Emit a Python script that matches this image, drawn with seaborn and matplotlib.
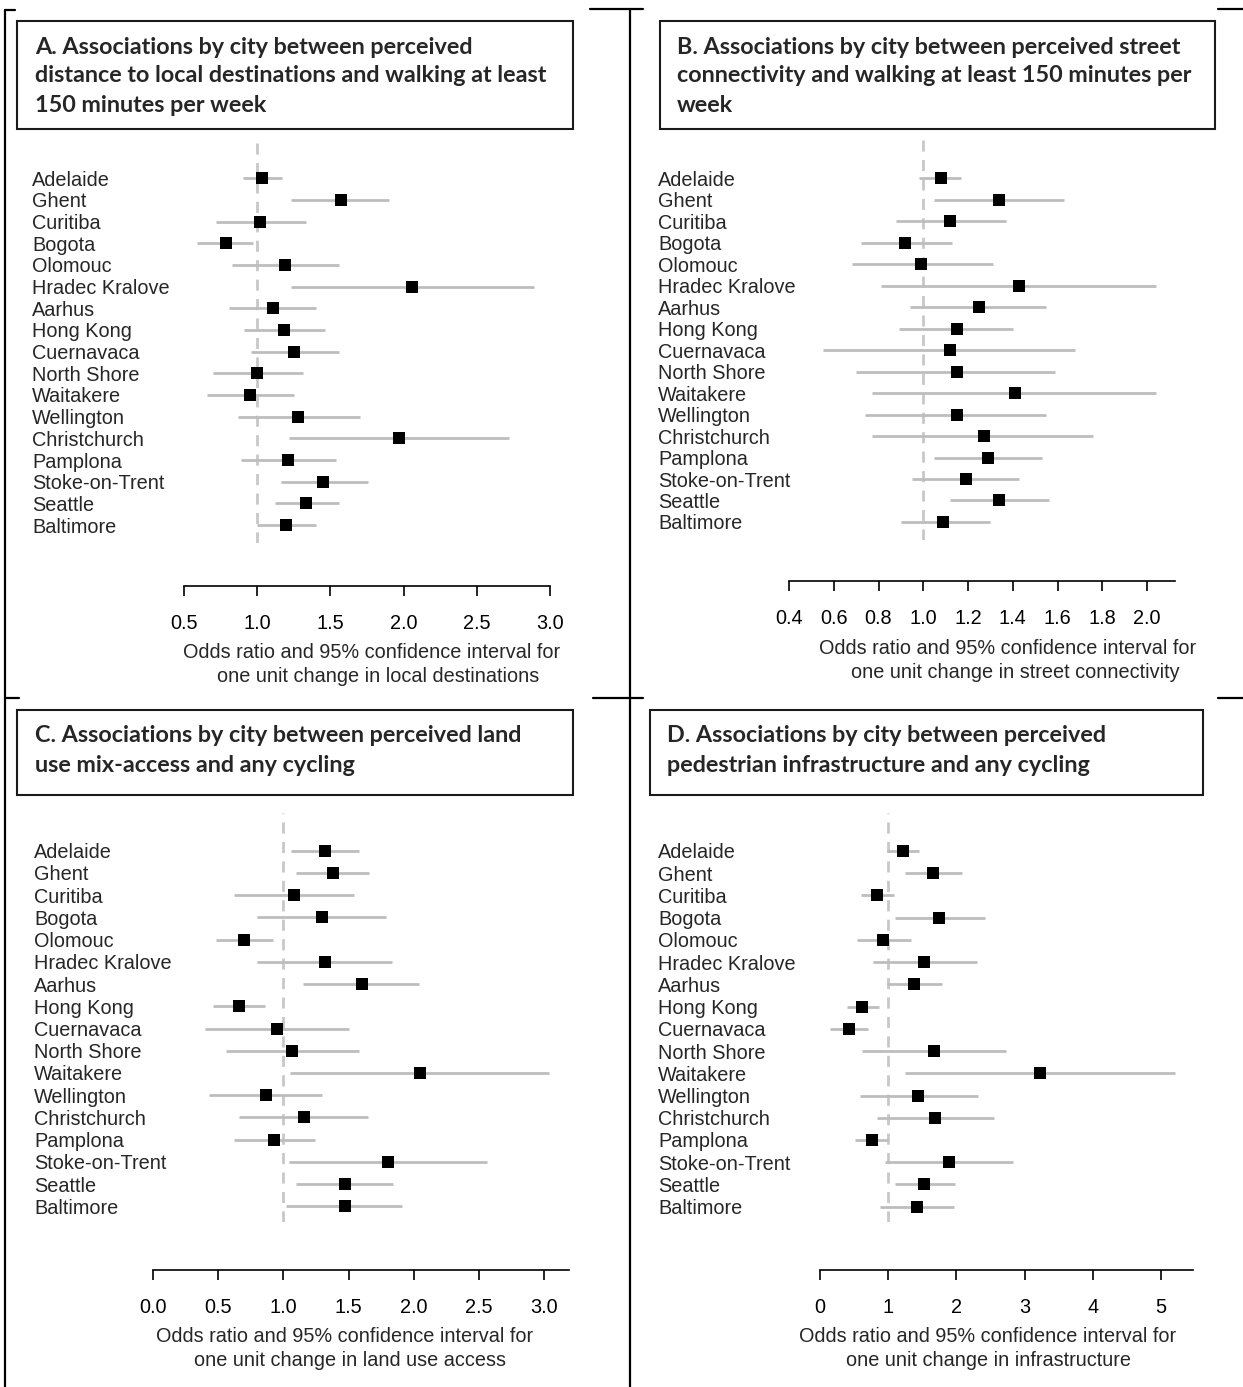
import matplotlib
matplotlib.use("Agg")
import matplotlib.pyplot as plt
import seaborn as sns
import numpy as np
import pandas as pd
from matplotlib.patches import Rectangle
from matplotlib.lines import Line2D

sns.set_style("white")
plt.rcParams['font.family'] = ['Liberation Sans', 'DejaVu Sans']

cities = ["Adelaide", "Ghent", "Curitiba", "Bogota", "Olomouc", "Hradec Kralove",
          "Aarhus", "Hong Kong", "Cuernavaca", "North Shore", "Waitakere",
          "Wellington", "Christchurch", "Pamplona", "Stoke-on-Trent", "Seattle",
          "Baltimore"]

or_a = [1.03, 1.57, 1.02, 0.79, 1.19, 2.06, 1.11, 1.18, 1.25, 1.00, 0.95, 1.28, 1.97, 1.21, 1.45, 1.33, 1.20]
lo_a = [0.90, 1.23, 0.72, 0.59, 0.83, 1.23, 0.81, 0.91, 0.96, 0.70, 0.66, 0.87, 1.22, 0.89, 1.16, 1.12, 1.00]
hi_a = [1.17, 1.90, 1.33, 0.97, 1.56, 2.89, 1.40, 1.46, 1.56, 1.31, 1.25, 1.70, 2.72, 1.54, 1.76, 1.56, 1.40]

or_b = [1.08, 1.34, 1.12, 0.92, 0.99, 1.43, 1.25, 1.15, 1.12, 1.15, 1.41, 1.15, 1.27, 1.29, 1.19, 1.34, 1.09]
lo_b = [0.98, 1.05, 0.88, 0.72, 0.68, 0.81, 0.94, 0.89, 0.55, 0.70, 0.77, 0.74, 0.77, 1.05, 0.95, 1.12, 0.90]
hi_b = [1.17, 1.63, 1.37, 1.13, 1.31, 2.04, 1.55, 1.40, 1.68, 1.59, 2.04, 1.55, 1.76, 1.53, 1.43, 1.56, 1.30]

or_c = [1.32, 1.38, 1.08, 1.30, 0.70, 1.32, 1.60, 0.66, 0.95, 1.07, 2.05, 0.87, 1.16, 0.93, 1.80, 1.47, 1.47]
lo_c = [1.06, 1.10, 0.62, 0.80, 0.48, 0.80, 1.15, 0.46, 0.40, 0.56, 1.05, 0.43, 0.66, 0.62, 1.04, 1.10, 1.02]
hi_c = [1.58, 1.66, 1.54, 1.79, 0.92, 1.83, 2.04, 0.86, 1.50, 1.58, 3.04, 1.30, 1.65, 1.24, 2.56, 1.84, 1.91]

or_d = [1.21, 1.65, 0.84, 1.75, 0.93, 1.53, 1.38, 0.62, 0.42, 1.67, 3.22, 1.44, 1.69, 0.76, 1.89, 1.53, 1.42]
lo_d = [0.98, 1.24, 0.60, 1.10, 0.54, 0.77, 0.98, 0.39, 0.14, 0.62, 1.24, 0.58, 0.84, 0.52, 0.96, 1.10, 0.88]
hi_d = [1.45, 2.08, 1.09, 2.42, 1.33, 2.30, 1.79, 0.86, 0.71, 2.73, 5.20, 2.31, 2.55, 1.00, 2.83, 1.98, 1.97]

ticks_a = [0.5, 1.0, 1.5, 2.0, 2.5, 3.0]
ticks_b = [0.4, 0.6, 0.8, 1.0, 1.2, 1.4, 1.6, 1.8, 2.0]
ticks_c = [0.0, 0.5, 1.0, 1.5, 2.0, 2.5, 3.0]
ticks_d = [0, 1, 2, 3, 4, 5]
ticklabels_a = ["0.5", "1.0", "1.5", "2.0", "2.5", "3.0"]
ticklabels_b = ["0.4", "0.6", "0.8", "1.0", "1.2", "1.4", "1.6", "1.8", "2.0"]
ticklabels_c = ["0.0", "0.5", "1.0", "1.5", "2.0", "2.5", "3.0"]
ticklabels_d = ["0", "1", "2", "3", "4", "5"]

titles = {
    "A": ["A. Associations by city between perceived",
          "distance to local destinations and walking at least",
          "150 minutes per week"],
    "B": ["B. Associations by city between perceived street",
          "connectivity and walking at least 150 minutes per",
          "week"],
    "C": ["C. Associations by city between perceived land",
          "use mix-access and any cycling"],
    "D": ["D. Associations by city between perceived",
          "pedestrian infrastructure and any cycling"],
}
xlabels = {
    "A": ["Odds ratio and 95% confidence interval for", "one unit change in local destinations"],
    "B": ["Odds ratio and 95% confidence interval for", "one unit change in street connectivity"],
    "C": ["Odds ratio and 95% confidence interval for", "one unit change in land use access"],
    "D": ["Odds ratio and 95% confidence interval for", "one unit change in infrastructure"],
}

W, H = 1243, 1387
DPI = 100
fig = plt.figure(figsize=(W / DPI, H / DPI), dpi=DPI)
PX2PT = 72.0 / DPI
FS = 14.3


def fx(x):
    return x / W


def fy(y):
    return 1 - y / H


panels = [
    dict(key="A", orv=or_a, lo=lo_a, hi=hi_a, ticks=ticks_a, tl=ticklabels_a,
         x0=184, xv0=0.5, xr=550, xvr=3.0, top=137, bot=543, axis_y=586,
         row0=178.3, rstep=21.67, labx=32,
         box=(17, 21, 573, 129), tx=35, ty0=47, xl=(372, 378, 652)),
    dict(key="B", orv=or_b, lo=lo_b, hi=hi_b, ticks=ticks_b, tl=ticklabels_b,
         x0=789, xv0=0.4, xr=1147, xvr=2.0, xend=1175, top=137, bot=540, axis_y=581,
         row0=178.3, rstep=21.48, labx=658,
         box=(660, 21, 1215, 129), tx=677, ty0=47, xl=(1008, 1015, 648)),
    dict(key="C", orv=or_c, lo=lo_c, hi=hi_c, ticks=ticks_c, tl=ticklabels_c,
         x0=153, xv0=0.0, xr=544, xvr=3.0, xend=569, top=813, bot=1222, axis_y=1270,
         row0=850.7, rstep=22.23, labx=34,
         box=(17, 710, 573, 795), tx=35, ty0=736, xl=(345, 350, 1337)),
    dict(key="D", orv=or_d, lo=lo_d, hi=hi_d, ticks=ticks_d, tl=ticklabels_d,
         x0=820, xv0=0.0, xr=1161, xvr=5.0, xend=1193, top=813, bot=1222, axis_y=1270,
         row0=851.0, rstep=22.23, labx=658,
         box=(650, 710, 1203, 795), tx=667, ty0=736, xl=(988, 989, 1337)),
]

for p in panels:
    ppu = (p["xr"] - p["x0"]) / (p["xvr"] - p["xv0"])
    xend = p.get("xend", p["xr"])
    xmax = p["xv0"] + (xend - p["x0"]) / ppu
    ax = fig.add_axes([fx(p["x0"]), fy(p["bot"]), (xend - p["x0"]) / W,
                       (p["bot"] - p["top"]) / H])
    n = len(cities)
    rows = np.arange(n)
    df = pd.DataFrame({"city": cities, "row": rows, "or": p["orv"],
                       "lo": p["lo"], "hi": p["hi"]})
    ax.axvline(1.0, color="#c8c8c8", lw=2.0, ls=(0, (4, 3)), zorder=1)
    ax.hlines(df["row"], df["lo"], df["hi"], color="#bdbdbd", lw=2.0, zorder=2)
    sns.scatterplot(data=df, x="or", y="row", marker="s", color="black", s=70,
                    linewidth=0, ax=ax, zorder=3, legend=False)
    for s in ["left", "right", "top"]:
        ax.spines[s].set_visible(False)
    ax.spines["bottom"].set_position(("outward", (p["axis_y"] - p["bot"]) * PX2PT))
    ax.set_xlim(p["xv0"], xmax)
    ytop = -(p["row0"] - p["top"]) / p["rstep"]
    ybot = (n - 1) + (p["bot"] - (p["row0"] + (n - 1) * p["rstep"])) / p["rstep"]
    ax.set_ylim(ybot, ytop)
    ax.set_yticks(rows)
    ax.set_yticklabels(cities, ha="left", fontsize=FS)
    ax.tick_params(axis="y", left=False, length=0, pad=(p["x0"] - p["labx"]) * PX2PT)
    ax.set_xticks(p["ticks"])
    ax.set_xticklabels(p["tl"], fontsize=FS)
    ax.tick_params(axis="x", bottom=True, direction="out", length=7, width=1.2,
                   pad=13, color="black", labelcolor="black")
    ax.spines["bottom"].set_bounds(p["ticks"][0], xmax)
    ax.spines["bottom"].set_color("black")
    ax.spines["bottom"].set_linewidth(1.2)
    ax.set_xlabel("")
    ax.set_ylabel("")
    ax.patch.set_alpha(0)

    c1, c2, yl = p["xl"]
    fig.text(fx(c1), fy(yl), xlabels[p["key"]][0], ha="center", va="center", fontsize=FS)
    fig.text(fx(c2), fy(yl + 24), xlabels[p["key"]][1], ha="center", va="center", fontsize=FS)

    bx0, by0, bx1, by1 = p["box"]
    fig.patches.append(Rectangle((fx(bx0), fy(by1)), (bx1 - bx0) / W, (by1 - by0) / H,
                                 transform=fig.transFigure, fill=False,
                                 edgecolor="#1a1a1a", lw=1.5))
    for i, line in enumerate(titles[p["key"]]):
        fig.text(fx(p["tx"]), fy(p["ty0"] + 29 * i), line, ha="left", va="center",
                 fontsize=16.8, fontweight="bold", family=["Lato", "DejaVu Sans"])

segs = [
    [(5, 10), (5, 1387)], [(5, 10), (15, 10)],
    [(590, 9), (643, 9)], [(630, 9), (630, 1387)],
    [(1218, 9), (1243, 9)],
    [(5, 698), (19, 698)], [(593, 698), (643, 698)], [(1218, 698), (1243, 698)],
]
for (xa, ya), (xb, yb) in segs:
    fig.add_artist(Line2D([fx(xa), fx(xb)], [fy(ya), fy(yb)], transform=fig.transFigure,
                          color="black", lw=1.6))

fig.savefig("out.png", dpi=DPI)
